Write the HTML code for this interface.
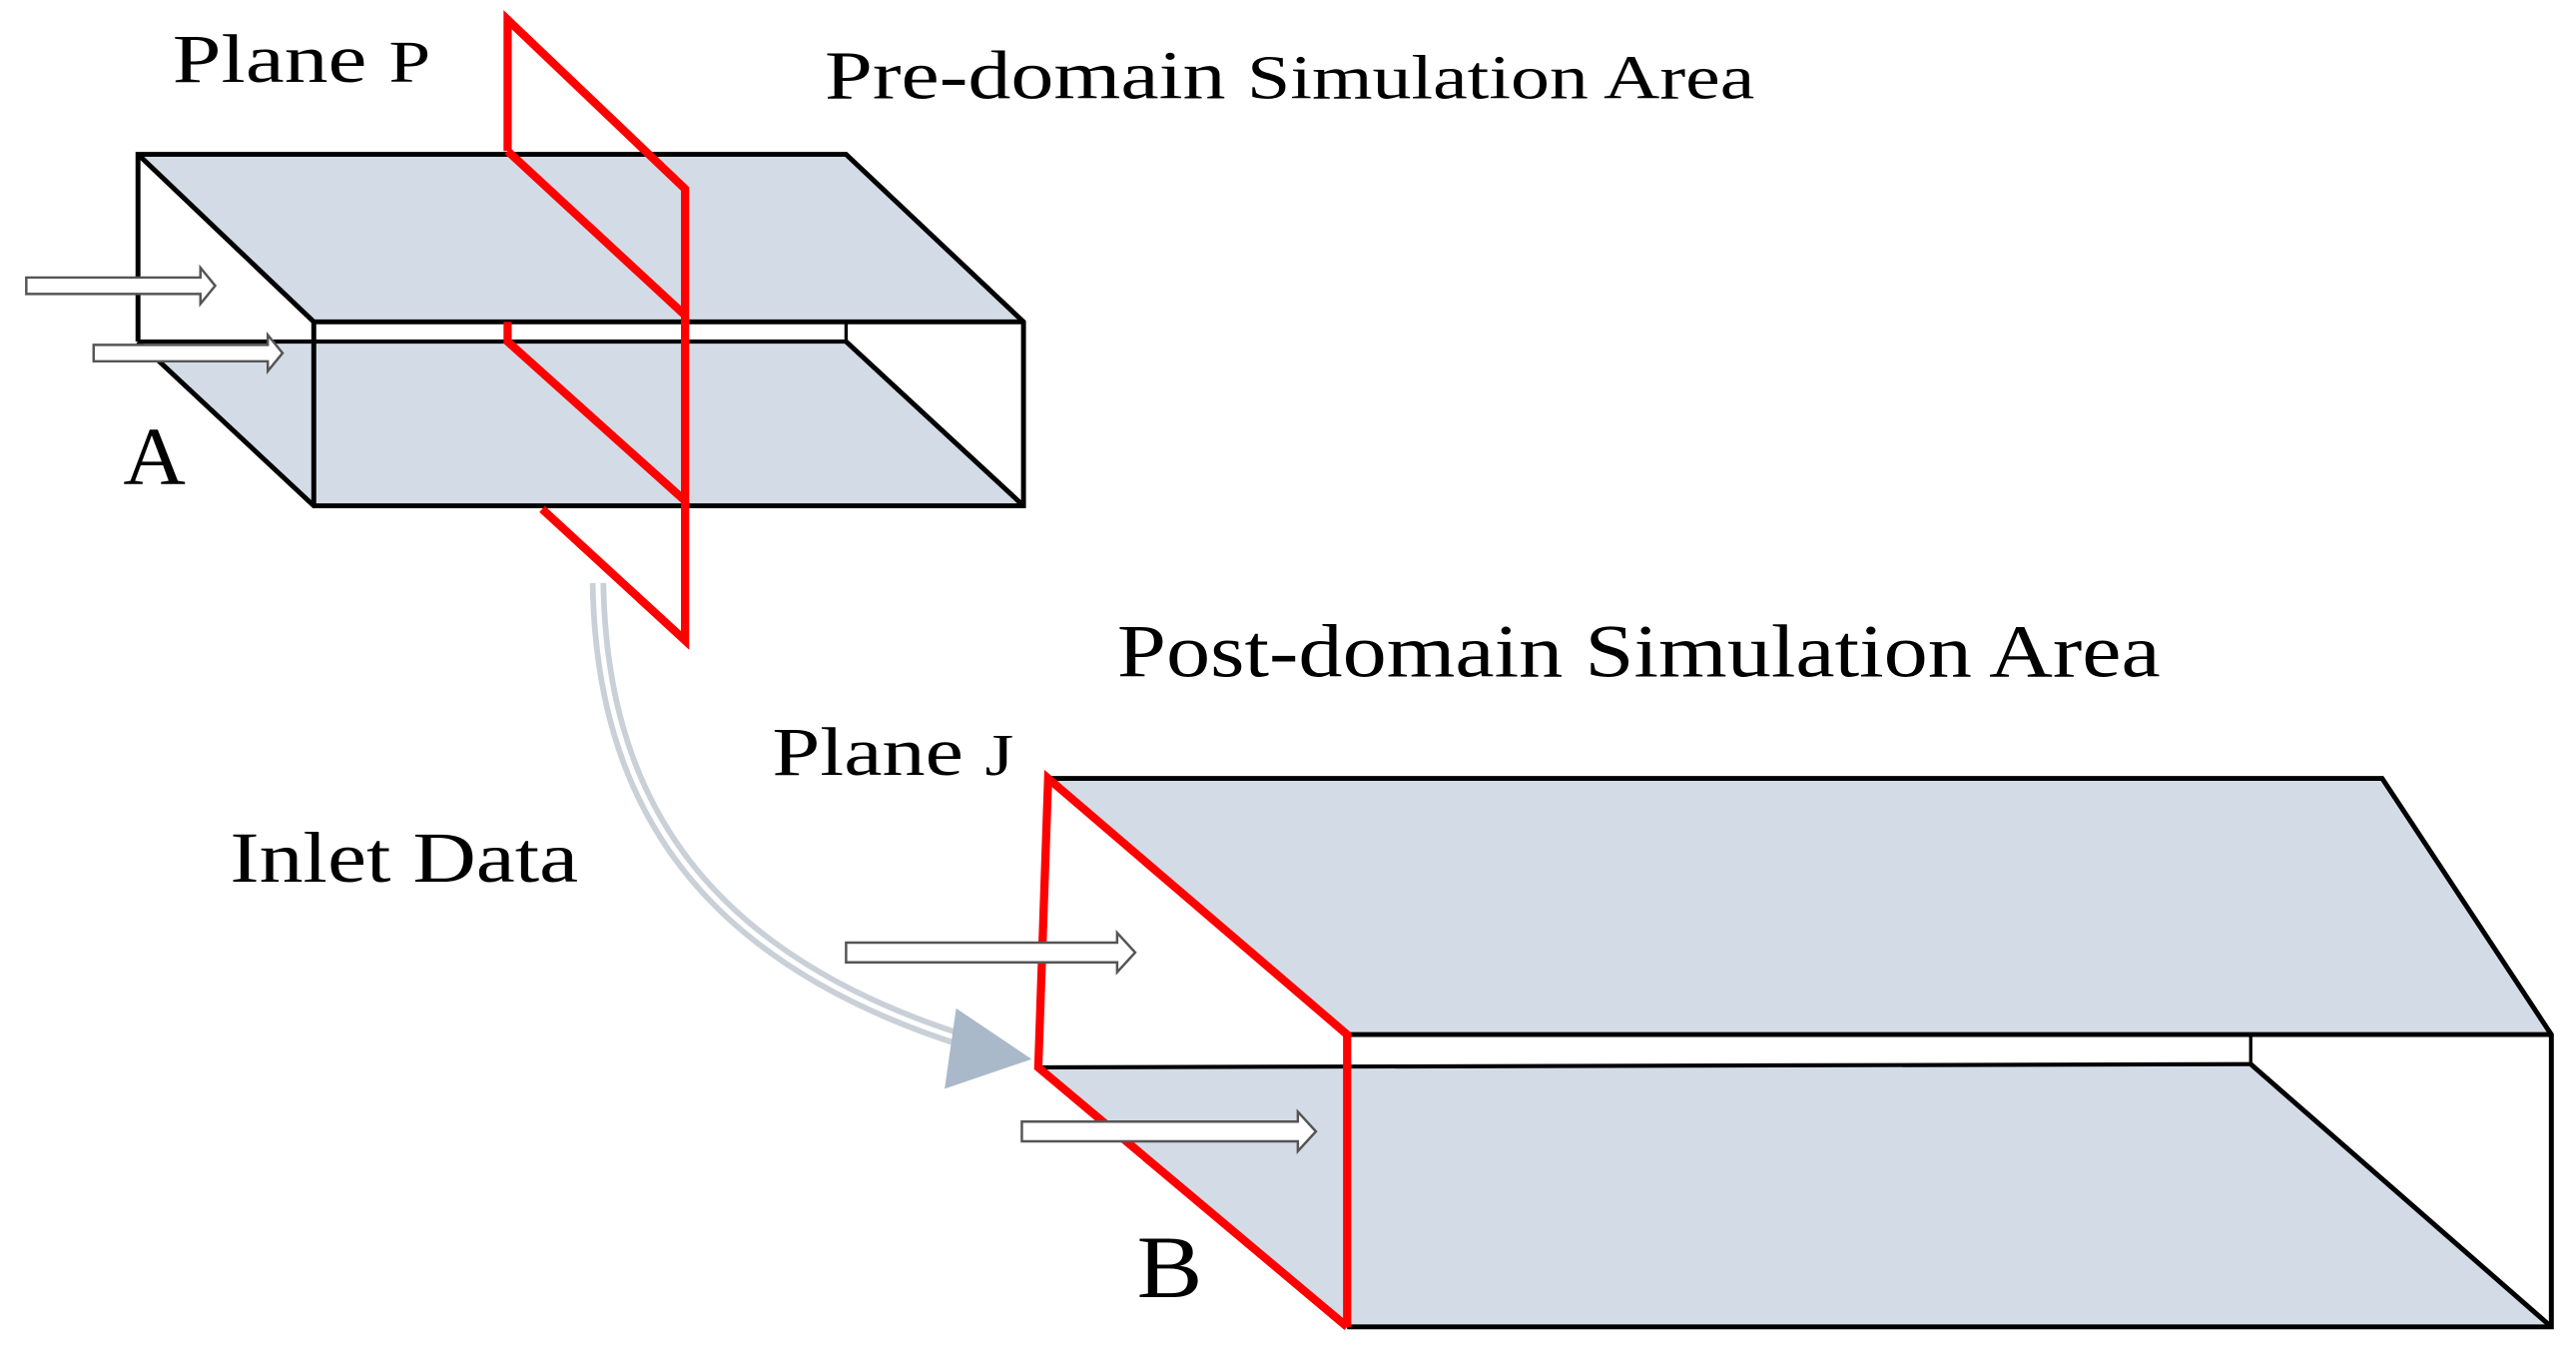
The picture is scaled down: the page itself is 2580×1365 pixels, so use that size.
<!DOCTYPE html>
<html><head><meta charset="utf-8"><style>
html,body{margin:0;padding:0;background:#fff;}
svg{display:block;}
text{font-family:"Liberation Serif",serif;fill:#000;}
</style></head><body>
<svg width="2580" height="1365" viewBox="0 0 1568 830" preserveAspectRatio="none" xmlns="http://www.w3.org/2000/svg">
<!-- Box A -->
<polygon points="84,94 515,94 623,196 191,196" fill="#d3dce6"/>
<polygon points="84,208 515,208 623,308 191,308" fill="#d3dce6"/>
<g stroke="#000" stroke-width="3" fill="none" stroke-linejoin="miter">
<polyline points="84,208 84,94 515,94 623,196 623,308 191,308 84,208"/>
<line x1="84" y1="94" x2="191" y2="196"/>
<line x1="191" y1="196" x2="623" y2="196"/>
<line x1="191" y1="196" x2="191" y2="308"/>
<line x1="84" y1="208" x2="515" y2="208" stroke-width="2.5"/>
<line x1="515" y1="196" x2="515" y2="208" stroke-width="2"/>
<line x1="515" y1="208" x2="623" y2="308"/>
</g>
<!-- Plane P -->
<g stroke="#f00" stroke-width="5" fill="none" stroke-linejoin="miter">
<polyline points="309,92 309,12 417,115 417,390 330,310"/>
<line x1="309" y1="92" x2="417" y2="192"/>
<polyline points="309,196 309,208 417,305"/>
</g>
<!-- arrows A -->
<g fill="#fff" stroke="#555" stroke-width="1.5">
<polygon points="16,169 122,169 122,163 131,174 122,185 122,179 16,179"/>
<polygon points="57,210 163,210 163,204 172,215 163,226 163,220 57,220"/>
</g>
<!-- Box B -->
<polygon points="638,474 1450,474 1553,630 820,630" fill="#d3dce6"/>
<polygon points="632,650 1370,648 1553,808 820,808" fill="#d3dce6"/>
<polygon points="638,474 820,630 820,650 632,650" fill="#fff"/>
<g stroke="#000" stroke-width="3" fill="none">
<polyline points="638,474 1450,474 1553,630 1553,808 820,808"/>
<line x1="820" y1="630" x2="1553" y2="630"/>
<line x1="632" y1="650" x2="1370" y2="648" stroke-width="2.5"/>
<line x1="1370" y1="630" x2="1370" y2="648" stroke-width="2"/>
<line x1="1370" y1="648" x2="1553" y2="808"/>
</g>
<g stroke="#f00" stroke-width="5" fill="none">
<polyline points="820,808 632,650 638,474 820,630 820,808"/>
</g>
<!-- curved arrow -->
<path d="M364,355 C366,480 420,580 585,633" fill="none" stroke="#c9d0d8" stroke-width="10"/>
<path d="M364,355 C366,480 420,580 585,633" fill="none" stroke="#fff" stroke-width="3"/>
<polygon points="582,614 628,645 575,663" fill="#a9b9ca"/>
<!-- arrows B -->
<g fill="#fff" stroke="#555" stroke-width="1.5">
<polygon points="515,574 680,574 680,568 691,580 680,592 680,586 515,586"/>
<polygon points="622,683 790,683 790,677 801,689 790,701 790,695 622,695"/>
</g>
<!-- labels -->
<text x="105" y="50" font-size="42" textLength="157" lengthAdjust="spacingAndGlyphs">Plane <tspan font-size="36">P</tspan></text>
<text x="502" y="60" font-size="42" textLength="566" lengthAdjust="spacingAndGlyphs">Pre-domain <tspan font-size="38">Simulation Area</tspan></text>
<text x="680" y="412" font-size="46" textLength="635" lengthAdjust="spacingAndGlyphs">Post-domain Simulation Area</text>
<text x="470" y="472" font-size="42" textLength="147" lengthAdjust="spacingAndGlyphs">Plane <tspan font-size="36">J</tspan></text>
<text x="140" y="537" font-size="44" textLength="212" lengthAdjust="spacingAndGlyphs">Inlet Data</text>
<text x="75" y="295" font-size="50" textLength="38" lengthAdjust="spacingAndGlyphs">A</text>
<text x="692" y="790" font-size="54" textLength="40" lengthAdjust="spacingAndGlyphs">B</text>
</svg>
</body></html>
